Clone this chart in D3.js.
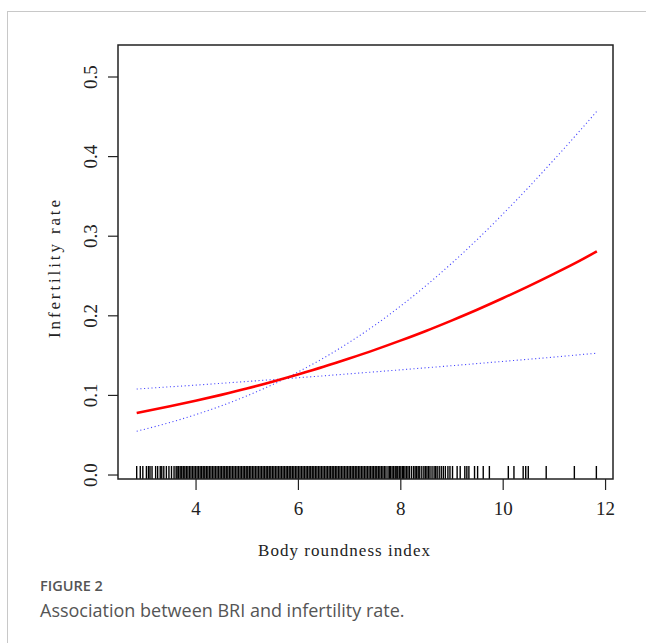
<html lang="en">
  <head>
    <meta charset="UTF-8" />
    <title>Association between BRI and infertility rate</title>
    <script src="https://d3js.org/d3.v7.min.js"></script>
  </head>
  <style>
    body {
      margin: 0px;
      overflow: hidden;
      background: #fff;
    }
    .lab {
      font-family: "Liberation Serif", "DejaVu Serif", serif;
      fill: #222;
    }
    .cap {
      font-family: "Open Sans", "Noto Sans", sans-serif;
      fill: #555;
    }
  </style>
  <body>
    <svg width="646" height="643"></svg>
  </body>
  <footer>
    <script>
      // curve values
      var bri = [2.85, 3.5, 4, 4.5, 5, 5.5, 6, 6.5, 7, 7.5, 8, 8.5, 9, 9.5, 10, 10.5, 11, 11.5, 11.84];
      var fit = [0.078, 0.0863, 0.0932, 0.1007, 0.1086, 0.1172, 0.1263, 0.1359, 0.1463, 0.1572,
                 0.1688, 0.181, 0.194, 0.2076, 0.222, 0.237, 0.2527, 0.269, 0.281];
      var ciFlat = [0.108, 0.1108, 0.1129, 0.1152, 0.1175, 0.1198, 0.1222, 0.1246, 0.1271, 0.1296,
                    0.1321, 0.1347, 0.1373, 0.14, 0.1427, 0.1454, 0.1481, 0.1511, 0.153];
      var ciSteep = [0.055, 0.066, 0.0758, 0.0868, 0.0994, 0.1134, 0.1293, 0.1469, 0.1666, 0.1881,
                     0.212, 0.2378, 0.2658, 0.2957, 0.3276, 0.361, 0.396, 0.4319, 0.457];

      // rug of observed BRI values (hundredths)
      var rugLow = "285 292 297 304 308 311 315 322 326 331 334 338 343 348 353 358 362";
      var rugDense = "364 367 370 373 376 379 382 385 388 391 394 397 400 403 406 409 412 415 418 421 " +
        "424 427 430 433 436 439 442 445 448 451 454 457 460 463 466 469 472 475 478 481 484 487 490 " +
        "493 496 499 502 505 508 511 514 517 520 523 526 529 532 535 538 541 544 547 550 553 556 559 " +
        "562 565 568 571 574 577 580 583 586 589 592 595 598 601 604 607 610 613 616 619 622 625 628 " +
        "631 634 637 640 643 646 649 652 655 658 661 664 667 670 673 676 679 682 685 688 691 694 697 " +
        "700 703 706 709 712 715 718 721 724 727 730 733 736 739 742 745 748 751 754 757 760 763 766 769 772";
      var rugMid = "776 779 781 784 787 790 792 795 798 801 804 806 809 812 815 818 822 826 829 832 835 " +
        "838 842 846 849 852 855 858 862 866 869 872 876 880 884 888 893 897 902";
      var rugHigh = "911 917 926 930 934 945 951 962 974 1011 1022 1040 1045 1050 1085 1140 1183";

      var xTicks = [4, 6, 8, 10, 12];
      var yTicks = [0, 0.1, 0.2, 0.3, 0.4, 0.5];

      var rug = [rugLow, rugDense, rugMid, rugHigh].join(" ").split(" ").map(function (s) {
        return +s / 100;
      });

      var svg = d3.select("svg");
      var box = { left: 118, right: 613, top: 45, bottom: 479 };

      // page frame
      svg.append("line").attr("x1", 7).attr("x2", 646).attr("y1", 11.5).attr("y2", 11.5)
        .attr("stroke", "#c8c8c8");
      svg.append("line").attr("x1", 7.5).attr("x2", 7.5).attr("y1", 11).attr("y2", 643)
        .attr("stroke", "#c8c8c8");

      var xScale = d3.scaleLinear().domain([2.485, 12.155]).range([box.left, box.right]);
      var yScale = d3.scaleLinear().domain([-0.005, 0.5402]).range([box.bottom, box.top]);

      var xAxis = svg.append("g")
        .attr("transform", `translate(0, ${box.bottom})`)
        .call(d3.axisBottom(xScale).tickValues(xTicks).tickSize(11).tickPadding(12).tickFormat(d3.format("d")));
      var yAxis = svg.append("g")
        .attr("transform", `translate(${box.left}, 0)`)
        .call(d3.axisLeft(yScale).tickValues(yTicks).tickSize(10).tickFormat(d3.format(".1f")));

      [xAxis, yAxis].forEach(function (g) {
        g.select(".domain").remove();
        g.selectAll("line").attr("stroke", "#222").attr("stroke-width", 1.2);
        g.selectAll("text").attr("class", "lab").style("font-size", "19px").attr("fill", "#222");
      });
      yAxis.selectAll("text")
        .attr("x", null).attr("dy", null)
        .attr("text-anchor", "middle")
        .attr("transform", function (d) {
          return `translate(-25, ${yScale(d)}) rotate(-90)`;
        })
        .attr("y", 0)
        .attr("dominant-baseline", "middle");
      yAxis.selectAll(".tick").attr("transform", null);
      yAxis.selectAll(".tick line")
        .attr("y1", function (d) { return yScale(d); })
        .attr("y2", function (d) { return yScale(d); });

      // rug
      svg.append("g")
        .selectAll("line")
        .data(rug)
        .enter()
        .append("line")
        .attr("x1", function (d) { return xScale(d); })
        .attr("x2", function (d) { return xScale(d); })
        .attr("y1", box.bottom - 13)
        .attr("y2", box.bottom)
        .attr("stroke", "#000")
        .attr("stroke-width", 1.4);

      var line = function (vals) {
        return d3.line()
          .x(function (d, i) { return xScale(bri[i]); })
          .y(function (d) { return yScale(d); })
          .curve(d3.curveMonotoneX)(vals);
      };

      [ciFlat, ciSteep].forEach(function (vals) {
        svg.append("path")
          .attr("d", line(vals))
          .attr("fill", "none")
          .attr("stroke", "#4646ff")
          .attr("stroke-width", 1.1)
          .attr("stroke-dasharray", "1.1 2.6");
      });
      svg.append("path")
        .attr("d", line(fit))
        .attr("fill", "none")
        .attr("stroke", "#ff0000")
        .attr("stroke-width", 2.6);

      // plot box
      svg.append("rect")
        .attr("x", box.left).attr("y", box.top)
        .attr("width", box.right - box.left).attr("height", box.bottom - box.top)
        .attr("fill", "none").attr("stroke", "#222").attr("stroke-width", 1.5);

      // axis titles
      svg.append("text").attr("class", "lab")
        .attr("x", 344).attr("y", 556)
        .attr("text-anchor", "middle").style("font-size", "17px")
        .attr("textLength", 172).attr("lengthAdjust", "spacing")
        .text("Body roundness index");
      svg.append("text").attr("class", "lab")
        .attr("transform", `translate(60, 269) rotate(-90)`)
        .attr("text-anchor", "middle").style("font-size", "17px")
        .attr("textLength", 138).attr("lengthAdjust", "spacing")
        .text("Infertility rate");

      // caption
      svg.append("text").attr("class", "cap")
        .attr("x", 40).attr("y", 591).style("font-size", "14.5px").style("font-weight", 600)
        .attr("fill", "#666")
        .text("FIGURE 2");
      svg.append("text").attr("class", "cap")
        .attr("x", 40).attr("y", 617).style("font-size", "18px")
        .text("Association between BRI and infertility rate.");
    </script>
  </footer>
</html>
